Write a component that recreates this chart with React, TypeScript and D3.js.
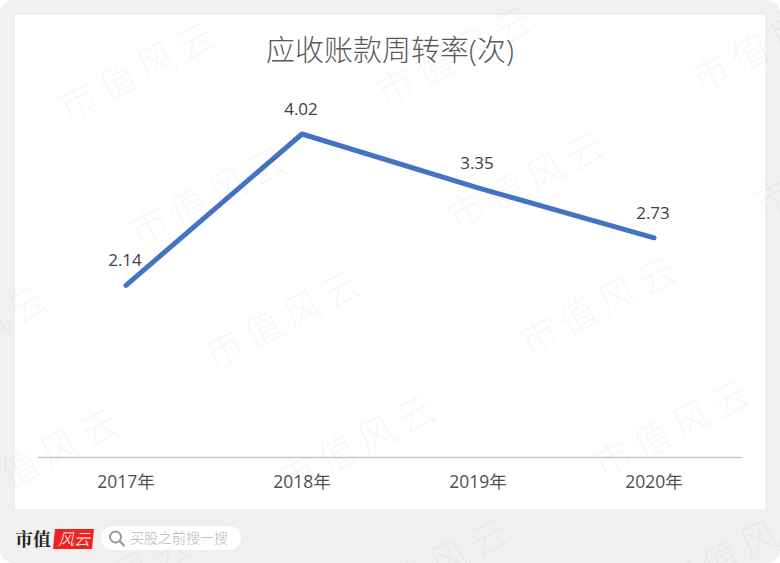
import React from 'react';
import * as d3 from 'd3';

const years = ['2017年', '2018年', '2019年', '2020年'];
const turnover = [2.14, 4.02, 3.35, 2.73];
const chartTitle = '应收账款周转率(次)';
const watermarkText = '市值风云';
const watermarkSpots = [
  [141, 73], [458, 58], [774, 45], [212, 198], [530, 183], [837, 170],
  [287, 321], [602, 308], [-26, 336], [361, 446], [676, 431], [44, 460],
  [117, 583], [434, 570], [744, 551],
];

const width = 780;
const height = 563;
const FONT = '"Open Sans", "Noto Sans CJK SC", sans-serif';

const x = d3.scaleBand<string>().domain(years).range([38, 742]);
const y = d3.scaleLinear().domain([0, 4.02]).range([457.5, 134]);
const cx = (yr: string) => x(yr)! + x.bandwidth() / 2;

const line = d3.line<number>()
  .x((_, i) => cx(years[i]))
  .y(d => y(d));

export default function App() {
  return (
    <svg width={width} height={height} style={{ position: 'absolute', left: 0, top: 0, display: 'block' }} fontFamily={FONT}>
      <rect width={width} height={height} fill="#fff" />
      <rect width={width} height={height} rx={14} fill="#f0f0f0" />
      <rect x={15} y={15} width={750} height={494} fill="#fff" />

      <text x={390} y={61} textAnchor="middle" fontSize={29} fontWeight={300} fill="#595959">{chartTitle}</text>

      <line x1={38} x2={742} y1={457.5} y2={457.5} stroke="#c8c8c8" strokeWidth={1.5} />

      <path d={line(turnover) ?? ''} fill="none" stroke="#4472c4" strokeWidth={5} strokeLinecap="round" strokeLinejoin="round" />

      {turnover.map((d, i) => (
        <text key={years[i]} x={cx(years[i]) - 1} y={y(d) - 19} textAnchor="middle" fontSize={17} fill="#404040">
          {d.toFixed(2)}
        </text>
      ))}

      {years.map(yr => (
        <text key={yr} x={cx(yr)} y={488} textAnchor="middle" fontSize={17.5} fill="#505050">{yr}</text>
      ))}

      {/* footer logo */}
      <text x={15} y={546} fontSize={18} fontWeight={700} fontFamily='"Noto Serif CJK SC", "Noto Sans CJK SC", serif' fill="#222">市值</text>
      <path d="M55 529H94L92 549H53Z" fill="#ee2222" />
      <text x={74} y={545} textAnchor="middle" fontSize={16} fontStyle="italic" fontWeight={300} fill="#fff">风云</text>

      {/* search box */}
      <rect x={101} y={526} width={140} height={24} rx={12} fill="#fff" />
      <circle cx={115.5} cy={537} r={5.5} fill="none" stroke="#9a9a9a" strokeWidth={2} />
      <line x1={119.5} y1={541} x2={124} y2={545.5} stroke="#9a9a9a" strokeWidth={2.2} strokeLinecap="round" />
      <text x={130} y={543} fontSize={14} fontWeight={300} fill="#b5b5b5">买股之前搜一搜</text>

      {/* watermark */}
      {watermarkSpots.map(([wx, wy], i) => (
        <text key={i} transform={`translate(${wx},${wy}) rotate(-27)`} textAnchor="middle" dominantBaseline="middle" fontSize={38} fontWeight={300}
          letterSpacing={6} fill="#000" fillOpacity={0.042}>{watermarkText}</text>
      ))}
    </svg>
  );
}
